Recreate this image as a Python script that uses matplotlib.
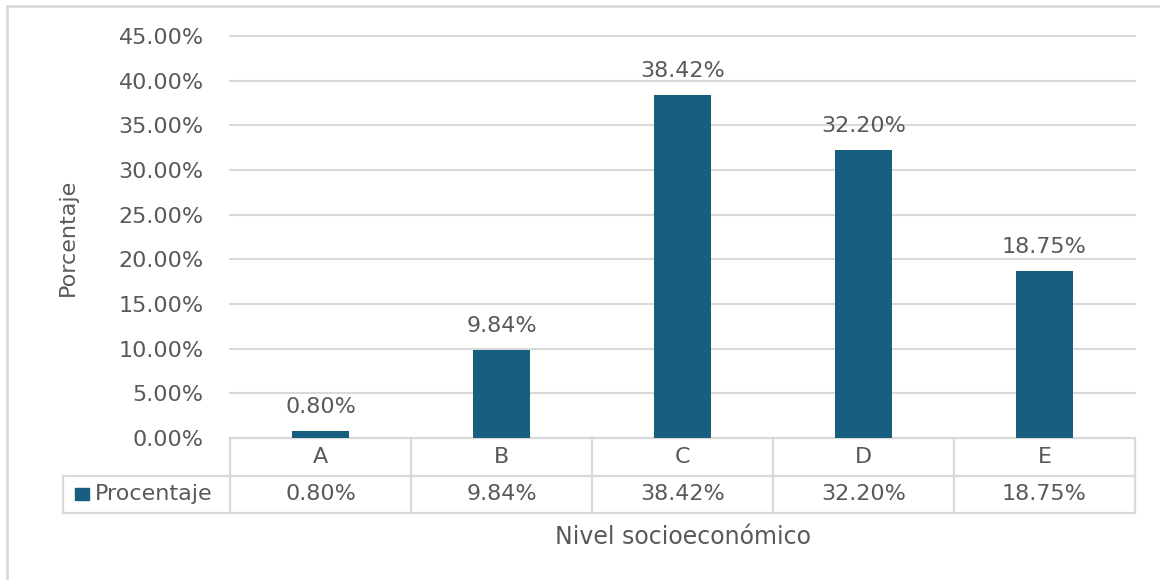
import matplotlib.pyplot as plt
from matplotlib.lines import Line2D
from matplotlib.patches import Rectangle

# datos
niveles = ['A', 'B', 'C', 'D', 'E']
procentaje = [0.0080, 0.0984, 0.3842, 0.3220, 0.1875]
etiquetas = ['0.80%', '9.84%', '38.42%', '32.20%', '18.75%']
yticks = [0.00, 0.05, 0.10, 0.15, 0.20, 0.25, 0.30, 0.35, 0.40, 0.45]

color_barra = '#185E7F'
gris_txt = '#595959'
gris_linea = '#D9D9D9'
fs = 16

plt.rcParams['font.family'] = ['DejaVu Sans']

fig = plt.figure(figsize=(11.6, 5.8), dpi=100)
ax = fig.add_axes([230 / 1160, 1 - 438 / 580, 905 / 1160, 402 / 580])

x = list(range(len(niveles)))
ax.bar(x, procentaje, width=0.32, color=color_barra, zorder=3)
for xi, v, lb in zip(x, procentaje, etiquetas):
    ax.annotate(lb, (xi, v), xytext=(0, 10), textcoords='offset points',
                ha='center', va='bottom', fontsize=fs, color=gris_txt)

ax.set_xlim(-0.5, len(niveles) - 0.5)
ax.set_ylim(0, 0.45)
ax.set_yticks(yticks)
ax.set_yticklabels(['%.2f%%' % (t * 100) for t in yticks])
ax.tick_params(axis='y', length=0, pad=19, labelsize=fs, labelcolor=gris_txt)
ax.tick_params(axis='x', length=0, labelbottom=False)
ax.grid(axis='y', color=gris_linea, linewidth=1.5, zorder=0)
for gl in ax.get_ygridlines():
    gl.set_clip_on(False)
for s in ax.spines.values():
    s.set_visible(False)

# tabla de datos
tr = ax.get_xaxis_transform()
h = 37.5 / 402
kw = dict(color=gris_linea, linewidth=1.6, clip_on=False, transform=tr)
x0, x1 = -0.5, len(niveles) - 0.5
xleg = -0.5 - 167 / 181
ax.add_line(Line2D([x0, x1], [0, 0], **kw))
ax.add_line(Line2D([xleg, x1], [-h, -h], **kw))
ax.add_line(Line2D([xleg, x1], [-2 * h, -2 * h], **kw))
ax.add_line(Line2D([xleg, xleg], [-h, -2 * h], **kw))
for i in range(len(niveles) + 1):
    ax.add_line(Line2D([i - 0.5, i - 0.5], [0, -2 * h], **kw))
for xi, n, lb in zip(x, niveles, etiquetas):
    ax.text(xi, -h / 2, n, transform=tr, ha='center', va='center',
            fontsize=fs, color=gris_txt)
    ax.text(xi, -1.5 * h, lb, transform=tr, ha='center', va='center',
            fontsize=fs, color=gris_txt)
ax.add_patch(Rectangle((xleg + 12 / 181, -1.5 * h - 6 / 402), 14 / 181, 12 / 402,
                       transform=tr, color=color_barra, clip_on=False))
ax.text(xleg + 32 / 181, -1.5 * h, 'Procentaje', transform=tr, ha='left',
        va='center', fontsize=fs, color=gris_txt)

ax.set_ylabel('Porcentaje', fontsize=fs, color=gris_txt)
ax.yaxis.set_label_coords(-152 / 905, 0.5)
fig.text(683 / 1160, 1 - 537 / 580, 'Nivel socioeconómico', ha='center',
         va='center', fontsize=17, color=gris_txt)

# borde
fig.add_artist(Line2D([7 / 1160, 7 / 1160], [0, 1 - 6 / 580], color=gris_linea,
                      linewidth=2, transform=fig.transFigure))
fig.add_artist(Line2D([7 / 1160, 1], [1 - 6 / 580, 1 - 6 / 580], color=gris_linea,
                      linewidth=2, transform=fig.transFigure))

fig.savefig('out.png', dpi=100, facecolor='white')
